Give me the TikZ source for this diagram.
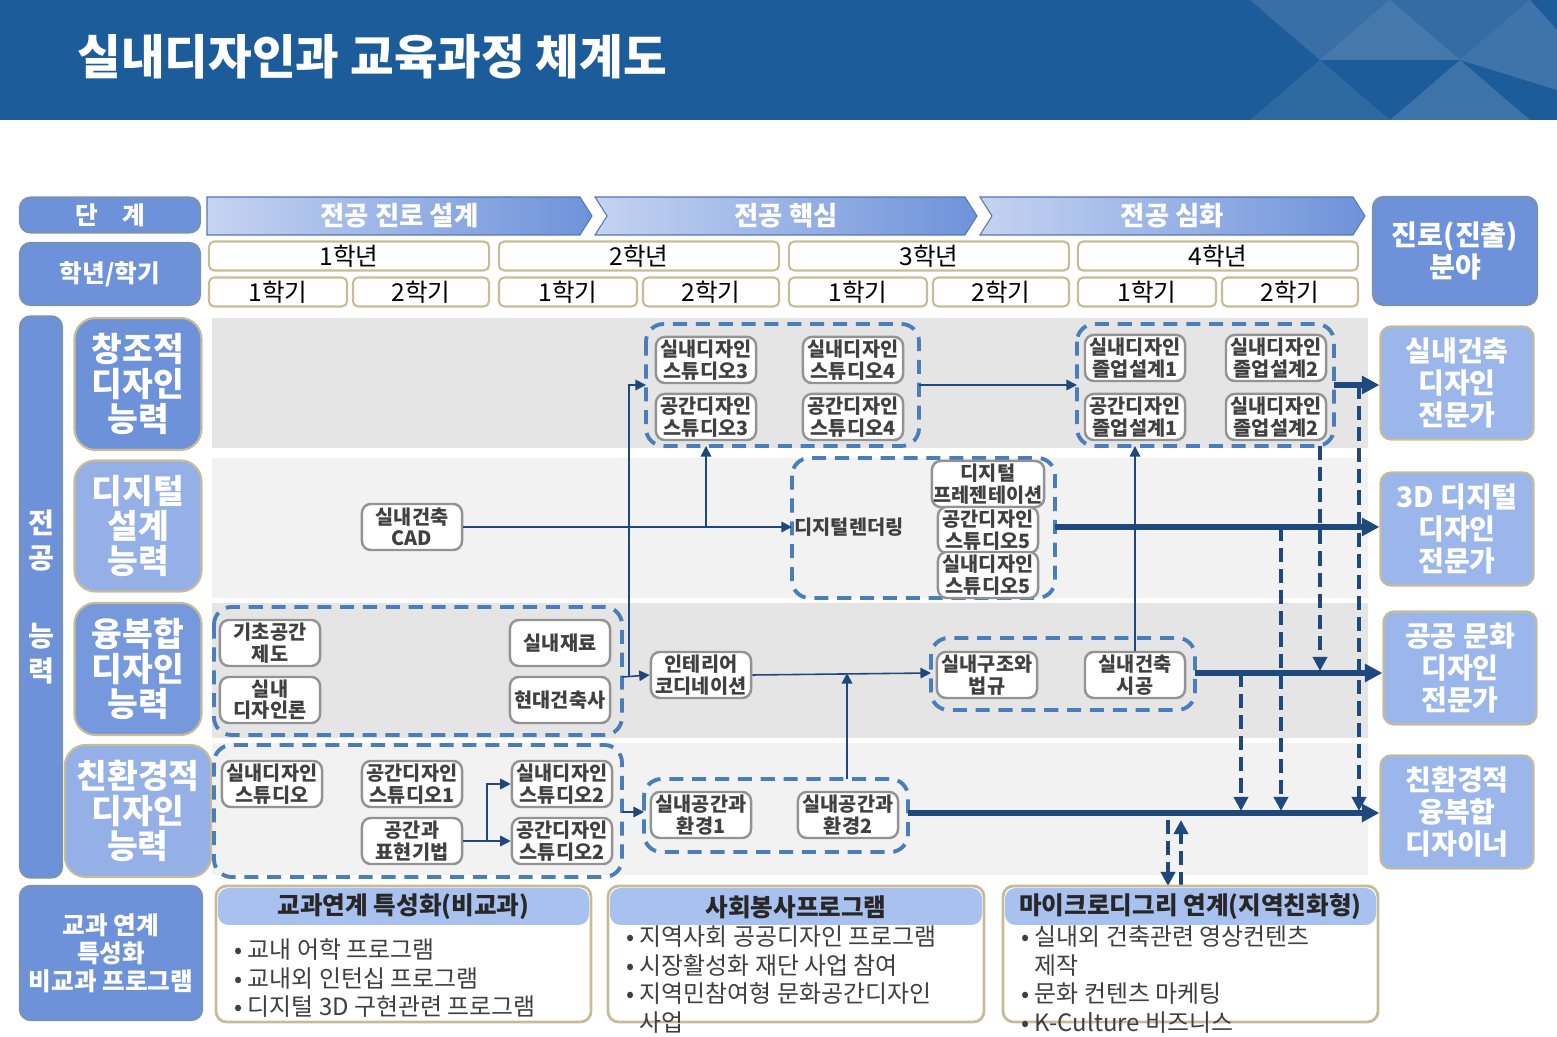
\documentclass[tikz,border=0pt]{standalone}
\usepackage{fontspec}
\setmainfont{Noto Sans CJK KR}
\usetikzlibrary{arrows.meta}
\definecolor{navy}{HTML}{1F497D}
\definecolor{hdblue}{HTML}{1D5C9A}
\definecolor{compA}{HTML}{6E92DA}
\definecolor{compB}{HTML}{94B0E6}
\definecolor{tipblue}{HTML}{9AB6EB}
\definecolor{grpblue}{HTML}{4A7EBB}
\definecolor{txtgray}{HTML}{404040}
\definecolor{tan}{HTML}{C8BC98}
\tikzset{
  subj/.style={draw=gray!85,line width=0.7pt,fill=white,rounded corners=2.5pt,minimum width=1cm,minimum height=0.46cm,inner sep=0.5pt,align=center,text=txtgray,font=\fontsize{5.6}{6.1}\selectfont\bfseries},
  grp/.style={draw=grpblue,line width=1.1pt,dash pattern=on 4pt off 2.5pt,rounded corners=5pt},
  yearbox/.style={draw=tan,line width=0.6pt,fill=white,rounded corners=1.5pt,inner sep=0pt,font=\fontsize{7}{7}\selectfont},
  bluebox/.style={draw=navy!60,line width=0.6pt,fill=compA,rounded corners=3pt,inner sep=0pt,text=white,align=center,font=\fontsize{7}{8}\selectfont\bfseries},
  compbox/.style={draw=tan,line width=0.6pt,rounded corners=6pt,text=white,align=center,font=\fontsize{9.5}{10}\selectfont\bfseries},
  tipbox/.style={draw=tan,line width=0.6pt,fill=tipblue,rounded corners=3pt,text=white,align=center,font=\fontsize{8}{9}\selectfont\bfseries},
  flow/.style={draw=navy,line width=0.45pt,-{Triangle[length=3pt,width=3pt]}},
  thick flow/.style={draw=navy,line width=1.5pt,-{Triangle[length=5pt,width=5pt]}},
  dash flow/.style={draw=navy,line width=1.2pt,dash pattern=on 4pt off 2pt,-{Triangle[length=4pt,width=4pt]}},
  listtext/.style={anchor=north west,align=left,text=txtgray,font=\fontsize{6.8}{8.2}\selectfont}
}
\begin{document}
\begin{tikzpicture}[x=0.01cm,y=-0.01cm]
\useasboundingbox (0,0) rectangle (1557,1037);
%header
\fill[hdblue] (0,0) rectangle (1557,120);
\fill[white,opacity=0.12] (1250,0)--(1320,60)--(1390,0)--cycle;
\fill[white,opacity=0.18] (1320,60)--(1390,0)--(1460,60)--cycle;
\fill[white,opacity=0.1] (1390,0)--(1460,60)--(1530,0)--cycle;
\fill[white,opacity=0.15] (1460,60)--(1530,0)--(1557,30)--(1557,90)--cycle;
\fill[white,opacity=0.08] (1250,120)--(1320,60)--(1390,120)--cycle;
\fill[white,opacity=0.14] (1390,120)--(1460,60)--(1530,120)--cycle;
\node[anchor=west,text=white,font=\fontsize{13.5}{14}\selectfont\bfseries] (title) at (65,57) {실내디자인과 교육과정 체계도};
%stage row
\node[bluebox,minimum width=1.8cm,minimum height=0.35cm] (stage) at (110,215) {단\quad 계};
\foreach \a/\b/\t [count=\i] in {207/592/전공 진로 설계,595/977/전공 핵심,980/1365/전공 심화}{
  \shade[left color=compB!55,right color=compA,draw=compA!80!black,line width=0.3pt]
    (\a,197)--(\b-12,197)--(\b,216)--(\b-12,235)--(\a,235)
    \ifnum\i>1 --(\a+12,216)\fi --cycle;
  \node[text=white,font=\fontsize{7.5}{8}\selectfont\bfseries] (phase\i) at ({(\a+\b)/2},216) {\t};
}
\node[bluebox,minimum width=1.64cm,minimum height=1.08cm,font=\fontsize{8}{9}\selectfont\bfseries] (career) at (1455,251) {진로(진출)\\분야};
\node[bluebox,minimum width=1.8cm,minimum height=0.62cm] (grade) at (110,274) {학년/학기};
%years and semesters
\foreach \x [count=\y] in {209,499,789,1078}{
  \node[yearbox,minimum width=2.8cm,minimum height=0.29cm] (year\y) at (\x+140,256) {\y 학년};
  \node[yearbox,minimum width=1.38cm,minimum height=0.29cm] (sem\y a) at (\x+69,292) {1학기};
  \node[yearbox,minimum width=1.36cm,minimum height=0.29cm] (sem\y b) at (\x+212,292) {2학기};
}
%competency rows
\fill[gray!20] (212,318) rectangle (1368,448);
\fill[gray!10] (212,458) rectangle (1368,598);
\fill[gray!20] (212,603) rectangle (1368,738);
\fill[gray!10] (212,743) rectangle (1368,875);
\node[bluebox,minimum width=0.42cm,minimum height=5.61cm,font=\fontsize{8}{10}\selectfont\bfseries] (major) at (41,597) {전\\공\\[12pt]능\\력};
\node[compbox,fill=compA,minimum width=1.27cm,minimum height=1.32cm] (compA) at (138,384) {창조적\\디자인\\능력};
\node[compbox,fill=compB,minimum width=1.27cm,minimum height=1.31cm] (compB) at (138,526) {디지털\\설계\\능력};
\node[compbox,fill=compA!80!compB,minimum width=1.27cm,minimum height=1.32cm] (compC) at (138,669) {융복합\\디자인\\능력};
\node[compbox,fill=compB,minimum width=1.27cm,minimum height=1.32cm] (compD) at (138,811) {친환경적\\디자인\\능력};
\node[tipbox,minimum width=1.53cm,minimum height=1.09cm] (tipA) at (1457,383) {실내건축\\디자인\\전문가};
\node[tipbox,minimum width=1.53cm,minimum height=1.09cm] (tipB) at (1457,529) {3D 디지털\\디자인\\전문가};
\node[tipbox,minimum width=1.53cm,minimum height=1.08cm] (tipC) at (1460,668) {공공 문화\\디자인\\전문가};
\node[tipbox,minimum width=1.53cm,minimum height=1.09cm] (tipD) at (1457,812) {친환경적\\융복합\\디자이너};
%groups
\draw[grp] (646,324) rectangle (919,446);
\draw[grp] (1077,324) rectangle (1334,446);
\draw[grp] (792,458) rectangle (1055,598);
\draw[grp] (214,607) rectangle (622,735);
\draw[grp] (931,638) rectangle (1195,710);
\draw[grp] (214,745) rectangle (622,877);
\draw[grp] (644,779) rectangle (908,852);
\coordinate (gStudio) at (646,385);
\coordinate (gStudioR) at (919,385);
\coordinate (gGrad) at (1077,385);
\coordinate (gGradR) at (1334,385);
\coordinate (gDigital) at (792,527);
\coordinate (gDigitalR) at (1055,527);
\coordinate (gBasicR) at (622,677);
\coordinate (gLaw) at (931,673);
\coordinate (gLawR) at (1195,673);
\coordinate (gStudioE) at (622,812);
\coordinate (gEnv) at (644,812);
\coordinate (gEnvR) at (908,813);
%subjects
\node[subj] (isd3) at (706,360) {실내디자인\\스튜디오3};
\node[subj] (ssd3) at (706,417) {공간디자인\\스튜디오3};
\node[subj] (isd4) at (853,360) {실내디자인\\스튜디오4};
\node[subj] (ssd4) at (853,417) {공간디자인\\스튜디오4};
\node[subj] (igr1) at (1135,358) {실내디자인\\졸업설계1};
\node[subj] (sgr1) at (1135,417) {공간디자인\\졸업설계1};
\node[subj] (igr2) at (1276,358) {실내디자인\\졸업설계2};
\node[subj] (igr2b) at (1276,417) {실내디자인\\졸업설계2};
\node[subj] (cad) at (412,527) {실내건축\\CAD};
\node[subj,draw=none,fill=none] (render) at (849,527) {디지털렌더링};
\node[subj] (present) at (988,484) {디지털\\프레젠테이션};
\node[subj] (ssd5) at (988,530) {공간디자인\\스튜디오5};
\node[subj] (isd5) at (988,575) {실내디자인\\스튜디오5};
\node[subj] (drafting) at (270,643) {기초공간\\제도};
\node[subj] (theory) at (270,700) {실내\\디자인론};
\node[subj] (material) at (560,643) {실내재료};
\node[subj] (history) at (560,700) {현대건축사};
\node[subj] (coord) at (701,675) {인테리어\\코디네이션};
\node[subj] (law) at (987,675) {실내구조와\\법규};
\node[subj] (build) at (1135,675) {실내건축\\시공};
\node[subj] (isd) at (272,784) {실내디자인\\스튜디오};
\node[subj] (ssd1) at (412,784) {공간디자인\\스튜디오1};
\node[subj] (express) at (412,841) {공간과\\표현기법};
\node[subj] (isd2) at (562,784) {실내디자인\\스튜디오2};
\node[subj] (ssd2) at (562,841) {공간디자인\\스튜디오2};
\node[subj] (env1) at (701,815) {실내공간과\\환경1};
\node[subj] (env2) at (848,815) {실내공간과\\환경2};
%thin flows
\draw[flow] (gBasicR) -- (coord.west);
\draw[flow] (gBasicR)++(7,0) |- (gStudio);
\draw[flow] (cad.east) -- (gDigital);
\draw[flow] (706,527) -- (706,446);
\draw[flow] (gStudioR) -- (gGrad);
\draw[flow] (coord.east) -- (gLaw);
\draw[flow] (847,779) -- (847,673);
\draw[flow] (build.north) -- (1135,446);
\draw[flow] (gStudioE) -- (gEnv);
\draw[flow] (express.east) -- (ssd2.west);
\draw[flow] (487,841) |- (isd2.west);
%thick flows
\draw[thick flow] (gGradR) -- (gGradR -| tipA.west);
\draw[thick flow] (gDigitalR) -- (gDigitalR -| tipB.west);
\draw[thick flow] (gLawR) -- (gLawR -| tipC.west);
\draw[thick flow] (gEnvR) -- (gEnvR -| tipD.west);
\draw[dash flow] (1241,673) -- (1241,811);
\draw[dash flow] (1281,527) -- (1281,811);
\draw[dash flow] (1320,446) -- (1320,671);
\draw[dash flow] (1359,385) -- (1359,811);
\draw[dash flow] (1168,820) -- (1168,886);
\draw[dash flow] (1181,886) -- (1181,820);
%bottom programs
\node[bluebox,minimum width=1.82cm,minimum height=1.34cm] (link) at (111,953) {교과 연계\\특성화\\비교과 프로그램};
\foreach \a/\b/\t [count=\i] in {216/591/교과연계 특성화(비교과),608/984/사회봉사프로그램,1003/1378/마이크로디그리 연계(지역친화형)}{
  \draw[tan,line width=0.8pt,fill=white,rounded corners=3pt] (\a,886) rectangle (\b,1022);
  \fill[tipblue!85,rounded corners=3pt] (\a+2,888) rectangle (\b-2,925);
  \node[text=txtgray!60!black,font=\fontsize{7}{7}\selectfont\bfseries] (prog\i) at ({(\a+\b)/2},907) {\t};
}
\node[listtext] (listA) at (222,926) {• 교내 어학 프로그램\\• 교내외 인턴십 프로그램\\• 디지털 3D 구현관련 프로그램};
\node[listtext] (listB) at (614,913) {• 지역사회 공공디자인 프로그램\\• 시장활성화 재단 사업 참여\\• 지역민참여형 문화공간디자인\\\phantom{• }사업};
\node[listtext] (listC) at (1009,913) {• 실내외 건축관련 영상컨텐츠\\\phantom{• }제작\\• 문화 컨텐츠 마케팅\\• K-Culture 비즈니스};
\end{tikzpicture}
\end{document}
